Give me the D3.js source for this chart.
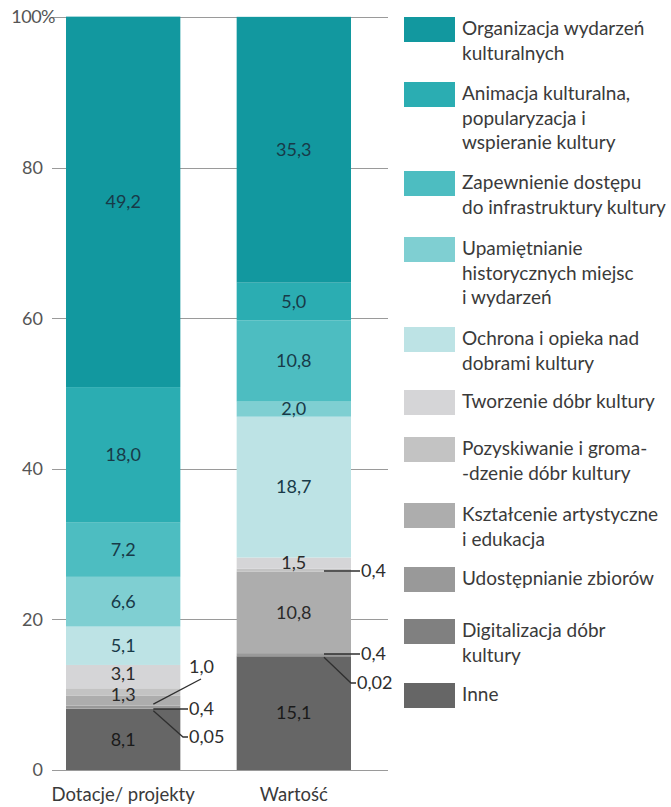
<!DOCTYPE html>
<html>
<head>
<meta charset="utf-8">
<script src="https://cdn.jsdelivr.net/npm/d3@7/dist/d3.min.js"></script>
<style>
  html, body { margin: 0; padding: 0; background: #fff; }
  svg { display: block; font-family: Lato, "Noto Sans", sans-serif; }
</style>
</head>
<body>
<svg id="chart" width="671" height="807"></svg>
<script>
// Categories (bars) and series (stack segments, top of legend = top of stack)
const bars = ["Dotacje/ projekty", "Wartość"];

const seriesNames = [
  "Organizacja wydarzeń kulturalnych",
  "Animacja kulturalna, popularyzacja i wspieranie kultury",
  "Zapewnienie dostępu do infrastruktury kultury",
  "Upamiętnianie historycznych miejsc i wydarzeń",
  "Ochrona i opieka nad dobrami kultury",
  "Tworzenie dóbr kultury",
  "Pozyskiwanie i gromadzenie dóbr kultury",
  "Kształcenie artystyczne i edukacja",
  "Udostępnianie zbiorów",
  "Digitalizacja dóbr kultury",
  "Inne"
];

// Legend text, broken into lines
const legendLines = [
  ["Organizacja wydarzeń", "kulturalnych"],
  ["Animacja kulturalna,", "popularyzacja i", "wspieranie kultury"],
  ["Zapewnienie dostępu", "do infrastruktury kultury"],
  ["Upamiętnianie", "historycznych miejsc", "i wydarzeń"],
  ["Ochrona i opieka nad", "dobrami kultury"],
  ["Tworzenie dóbr kultury"],
  ["Pozyskiwanie i groma-", "-dzenie dóbr kultury"],
  ["Kształcenie artystyczne", "i edukacja"],
  ["Udostępnianie zbiorów"],
  ["Digitalizacja dóbr", "kultury"],
  ["Inne"]
];

// Percent shares per series (same order as seriesNames)
const dotacjeValues = [49.2, 18.0, 7.2, 6.6, 5.1, 3.1, 1.0, 1.3, 0.4, 0.05, 8.1];
const wartoscValues = [35.3, 5.0, 10.8, 2.0, 18.7, 1.5, 0.4, 10.8, 0.4, 0.02, 15.1];

const yTicks = [0, 20, 40, 60, 80, 100];
const yTickLabels = ["0", "20", "40", "60", "80", "100%"];

// ---- styling ----
const colors = ["#12989f", "#2badb2", "#4dbdc1", "#7fcfd2", "#bde3e5",
                "#d5d5d7", "#c3c3c3", "#adadad", "#999999", "#808080", "#666666"];
const labelColors = ["#183a48", "#183a48", "#183a48", "#183a48", "#183a48",
                     "#2a2a2a", "#2a2a2a", "#2a2a2a", "#2a2a2a", "#2a2a2a", "#1a1a1a"];

const svg = d3.select("#chart");

const y = d3.scaleLinear().domain([0, 100]).range([770, 17]);
const x = d3.scaleBand().domain(bars).range([66, 351]).paddingInner(0.33).paddingOuter(0);

// Gridlines
svg.append("g").selectAll("line").data(yTicks).join("line")
  .attr("x1", 52).attr("x2", 388)
  .attr("y1", d => Math.round(y(d)) + 0.5).attr("y2", d => Math.round(y(d)) + 0.5)
  .attr("stroke", "#9a9a9a").attr("stroke-width", 1);

// Y-axis labels
svg.append("g").selectAll("text").data(yTicks).join("text")
  .attr("x", d => d === 100 ? 55 : 43)
  .attr("y", d => y(d))
  .attr("dy", "0.35em")
  .attr("text-anchor", "end")
  .attr("font-size", 18)
  .attr("fill", "#555")
  .attr("letter-spacing", d => d === 100 ? "-0.5" : "0")
  .text((d, i) => yTickLabels[i]);

// Stack data, bottom series first
const table = bars.map((b, bi) => {
  const row = { bar: b };
  const vals = bi === 0 ? dotacjeValues : wartoscValues;
  seriesNames.forEach((s, si) => row[s] = vals[si]);
  return row;
});
const stack = d3.stack().keys(seriesNames.slice().reverse());
const layers = stack(table);

const segs = [];
layers.forEach(layer => {
  const si = seriesNames.indexOf(layer.key);
  layer.forEach(d => segs.push({ si, bar: d.data.bar, y0: d[0], y1: d[1], v: d[1] - d[0] }));
});

svg.append("g").selectAll("rect").data(segs).join("rect")
  .attr("x", d => x(d.bar))
  .attr("width", x.bandwidth())
  .attr("y", d => y(d.y1))
  .attr("height", d => y(d.y0) - y(d.y1))
  .attr("fill", d => colors[d.si]);

const fmt1 = v => v.toFixed(1).replace(".", ",");

// Segments labelled outside through leader lines
const callouts = [
  { bar: 0, si: 6, lx: 189, ly: 667, kind: "up", sdy: 12 },
  { bar: 0, si: 8, lx: 189, ly: 709, kind: "flat" },
  { bar: 0, si: 9, lx: 189, ly: 737, kind: "down", sdy: 2 },
  { bar: 1, si: 6, lx: 361, ly: 571, kind: "flat" },
  { bar: 1, si: 8, lx: 361, ly: 654, kind: "flat" },
  { bar: 1, si: 9, lx: 357, ly: 683, kind: "down", sdy: 1 }
];
const isCallout = d => callouts.some(c => bars[c.bar] === d.bar && c.si === d.si);

// Small vertical nudges for tightly packed inside labels
const labelNudge = { "0|5": -3, "0|7": -6 };

svg.append("g").selectAll("text").data(segs.filter(d => !isCallout(d))).join("text")
  .attr("x", d => x(d.bar) + x.bandwidth() / 2)
  .attr("y", d => y((d.y0 + d.y1) / 2) + (labelNudge[bars.indexOf(d.bar) + "|" + d.si] || 0))
  .attr("dy", "0.35em")
  .attr("text-anchor", "middle")
  .attr("font-size", 18)
  .attr("fill", d => labelColors[d.si])
  .text(d => fmt1(d.v));

// Leader lines and outside labels
const cg = svg.append("g");
callouts.forEach(c => {
  const vals = c.bar === 0 ? dotacjeValues : wartoscValues;
  const seg = segs.find(s => s.bar === bars[c.bar] && s.si === c.si);
  const right = x(bars[c.bar]) + x.bandwidth();
  const sx = right - 27;
  const sy = y((seg.y0 + seg.y1) / 2) + (c.sdy || 0);
  let pts;
  if (c.kind === "up") pts = [[sx, sy], [c.lx + 12, c.ly + 12]];
  else if (c.kind === "down") pts = [[sx, sy], [c.lx - 6, c.ly], [c.lx - 1, c.ly]];
  else pts = [[sx, c.ly], [c.lx - 1, c.ly]];
  cg.append("path")
    .attr("d", d3.line()(pts))
    .attr("fill", "none")
    .attr("stroke", "#2f2f2f")
    .attr("stroke-width", 1.3);
  cg.append("text")
    .attr("x", c.lx)
    .attr("y", c.ly)
    .attr("dy", "0.35em")
    .attr("font-size", 18)
    .attr("fill", "#2e2e2e")
    .text(vals[c.si].toFixed(vals[c.si] < 0.1 ? 2 : 1).replace(".", ","));
});

// Category labels
svg.append("g").selectAll("text").data(bars).join("text")
  .attr("x", d => x(d) + x.bandwidth() / 2)
  .attr("y", 795)
  .attr("dy", "0.35em")
  .attr("text-anchor", "middle")
  .attr("font-size", 18.5)
  .attr("fill", "#3a3a3a")
  .text(d => d);

// Legend
const legendTops = [17, 82, 171, 237, 327, 390, 437, 503, 567, 619, 683];
const lg = svg.append("g");
legendLines.forEach((lines, i) => {
  lg.append("rect")
    .attr("x", 404).attr("y", legendTops[i])
    .attr("width", 51).attr("height", 25)
    .attr("fill", colors[i]);
  const t = lg.append("text")
    .attr("x", 462).attr("y", legendTops[i] + 18)
    .attr("font-size", 19)
    .attr("fill", "#3a3a3a");
  lines.forEach((ln, j) => {
    t.append("tspan").attr("x", 462).attr("dy", j === 0 ? 0 : 24.5).text(ln);
  });
});
</script>
</body>
</html>
